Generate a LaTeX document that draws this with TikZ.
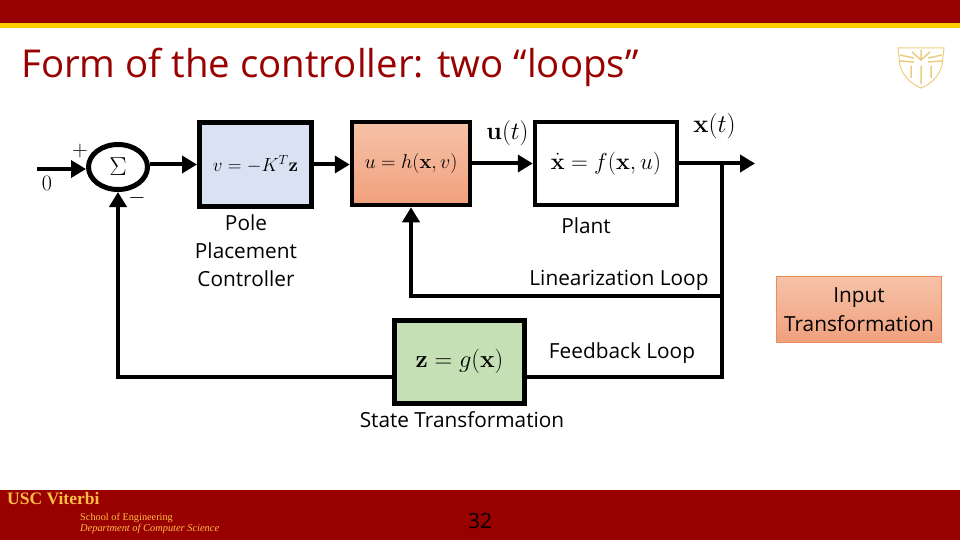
\documentclass[tikz,border=0pt]{standalone}
\usepackage{amsmath,amssymb}
\usepackage[no-math]{fontspec}
\usepackage{fix-cm}
\usetikzlibrary{arrows.meta,positioning,shapes.geometric}
\setmainfont{Open Sans}
\newfontfamily\serifviterbi{Liberation Serif}
\definecolor{cardinal}{RGB}{153,0,0}
\definecolor{gold}{RGB}{255,204,0}
\definecolor{footgold}{RGB}{255,190,70}
\definecolor{crest}{RGB}{235,205,130}
\definecolor{softblue}{RGB}{217,226,243}
\definecolor{softgreen}{RGB}{197,224,180}
\definecolor{salmontop}{RGB}{246,194,168}
\definecolor{salmonlow}{RGB}{240,160,125}
\definecolor{salmonedge}{RGB}{235,140,90}

\begin{document}
\begin{tikzpicture}[x=1pt,y=-1pt, every node/.style={font=\fontsize{20.8}{25}\selectfont},
  b/.style={rectangle,draw=black,line width=5pt,inner sep=0pt},
  w/.style={line width=4pt,draw=black},
  a/.style={w,-{Triangle[length=15pt,width=17pt]}},
  m/.style={font=\fontsize{22}{26}\selectfont,inner sep=0pt},
  t/.style={align=center,inner sep=0pt}]
  \useasboundingbox (0,0) rectangle (960,540);
  \fill[cardinal] (0,0) rectangle (960,23);
  \fill[gold] (0,23) rectangle (960,28);
  \fill[cardinal] (0,490) rectangle (960,540);
  \node[anchor=west,inner sep=0pt,text=cardinal,font=\fontsize{38.4}{44}\selectfont] (title) at (21,67) {Form of the controller: two “loops”};
  \draw[crest,line width=1pt] (898,48) -- (944,48) -- (942,66) .. controls (938,78) and (929,85) .. (921,88) .. controls (913,85) and (904,78) .. (900,66) -- cycle;
  \draw[crest,line width=1.5pt] (900,55) -- (914,58) (900,61) -- (914,62) (942,55) -- (928,58) (942,61) -- (928,62) (912,52) -- (921,60) -- (930,52) (921,50) -- (921,60) (911,66) -- (911,78) (921,66) -- (921,84) (931,66) -- (931,78);

  \node[ellipse,draw=black,line width=5pt,minimum width=59pt,minimum height=45pt,inner sep=0pt,font=\fontsize{26}{30}\selectfont] (sum) at (118,167) {$\Sigma$};
  \node[b,fill=softblue,minimum width=112pt,minimum height=84pt,font=\fontsize{19}{22}\selectfont] (pole) at (255.5,164.5) {$v=-K^T\mathbf{z}$};
  \node[b,line width=4.5pt,top color=salmontop,bottom color=salmonlow,minimum width=118pt,minimum height=83pt,font=\fontsize{20}{24}\selectfont] (input) at (411,163.5) {$u=h(\mathbf{x},v)$};
  \node[b,line width=4.5pt,minimum width=142pt,minimum height=83pt,font=\fontsize{23.2}{28}\selectfont] (plant) at (606,163.5) {$\dot{\mathbf{x}}=f(\mathbf{x},u)$};
  \node[b,fill=softgreen,minimum width=130pt,minimum height=83pt,font=\fontsize{24.5}{28}\selectfont] (state) at (459.5,361.5) {$\mathbf{z}=g(\mathbf{x})$};
  \coordinate (zero) at (37,169);
  \coordinate (out) at (755,163.5);
  \coordinate (jct) at (722,163.5);
  \coordinate (lin) at (722,296);
  \coordinate (fb) at (722,377);

  \draw[a] (zero) -- (sum.west |- zero);
  \draw[a] (pole.west -| sum.east) -- (pole.west);
  \draw[a] (pole.east) -- (pole.east -| input.west);
  \draw[a] (input.east) -- (plant.west);
  \draw[a] (plant.east) -- (out);
  \draw[w] (jct) -- (fb) -- (fb -| state.east);
  \draw[a] (lin) -| (input.south);
  \draw[a] (fb -| state.west) -| (sum.south);

  \node[m] (lzero) at (47,183) {$0$};
  \node[m] (lplus) at (80,151) {$+$};
  \node[m] (lminus) at (137,198) {$-$};
  \node[m,font=\fontsize{25}{29}\selectfont] (lu) at (507.5,133) {$\mathbf{u}(t)$};
  \node[m,font=\fontsize{25.5}{29}\selectfont] (lx) at (714.5,126) {$\mathbf{x}(t)$};
  \node[t] (lpole) at (246,250.5) {Pole\\[3pt]Placement\\[3pt]Controller};
  \node[t] (lplant) at (586,226) {Plant};
  \node[t] (llin) at (619,280) {Linearization Loop};
  \node[t] (lfb) at (622,353) {Feedback Loop};
  \node[t] (lstate) at (462,420) {State Transformation};
  \node[t,draw=salmonedge,line width=1pt,top color=salmontop,bottom color=salmonlow,minimum width=165pt,minimum height=66pt] (ltrans) at (859,309.5) {Input\\[4pt]Transformation};

  \node[anchor=west,inner sep=0pt,text=footgold,font=\serifviterbi\bfseries\fontsize{17.5}{20}\selectfont] (usc) at (7,499) {USC Viterbi};
  \node[anchor=west,inner sep=0pt,text=footgold,font=\serifviterbi\fontsize{10.3}{12}\selectfont] (school) at (80,518) {School of Engineering};
  \node[anchor=west,inner sep=0pt,text=footgold,font=\serifviterbi\itshape\fontsize{10.4}{12}\selectfont] (dept) at (80,529) {Department of Computer Science};
  \node[inner sep=0pt,text=black,font=\fontsize{21}{25}\selectfont] (page) at (480,521) {32};
\end{tikzpicture}
\end{document}
